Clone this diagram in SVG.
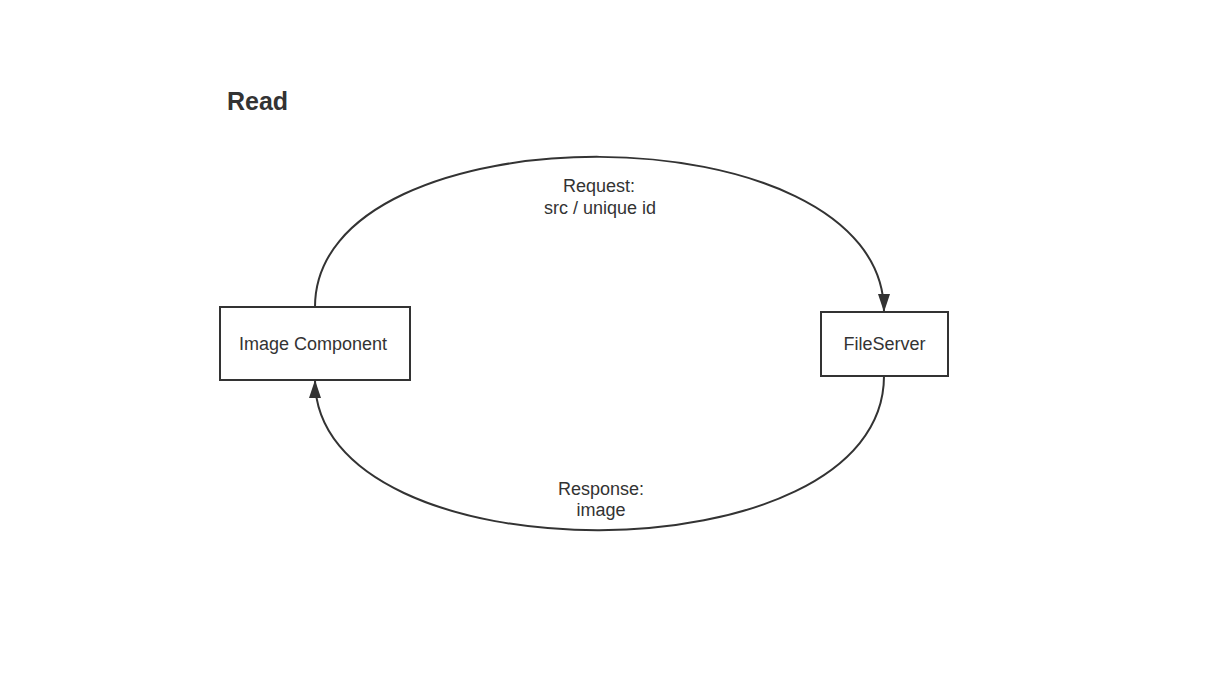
<svg xmlns="http://www.w3.org/2000/svg" width="1206" height="682" viewBox="0 0 1206 682">
  <style>
    .node rect { fill: #ffffff; stroke: #333333; stroke-width: 2; }
    .label { font-family: "Liberation Sans", Arial, sans-serif; font-size: 18px; fill: #333333; text-anchor: middle; }
    .title { font-family: "Liberation Sans", Arial, sans-serif; font-size: 25px; font-weight: bold; fill: #333333; }
    .edge { fill: none; stroke: #333333; stroke-width: 2; }
  </style>
  <defs>
    <marker id="arrow" markerUnits="userSpaceOnUse" markerWidth="18" markerHeight="12" refX="18" refY="6" orient="auto">
      <path d="M0,0 L18,6 L0,12 z" fill="#333333"/>
    </marker>
  </defs>
  <rect width="1206" height="682" fill="#ffffff"/>
  <text class="title" x="227" y="110">Read</text>
  <g id="connectors">
    <path class="edge" d="M315,307 C315,106 884,106 884,312" marker-end="url(#arrow)"/>
    <path class="edge" d="M884,376 C884,581 315,581 315,380" marker-end="url(#arrow)"/>
    <text class="label" x="599" y="191.5">Request:</text>
    <text class="label" x="600" y="213.5">src / unique id</text>
    <text class="label" x="601" y="494.5">Response:</text>
    <text class="label" x="601" y="516">image</text>
  </g>
  <g id="image-component" class="node">
    <rect x="220" y="307" width="190" height="73"/>
    <text class="label" x="313" y="350">Image Component</text>
  </g>
  <g id="fileserver" class="node">
    <rect x="821" y="312" width="127" height="64"/>
    <text class="label" x="884.5" y="350">FileServer</text>
  </g>
</svg>
